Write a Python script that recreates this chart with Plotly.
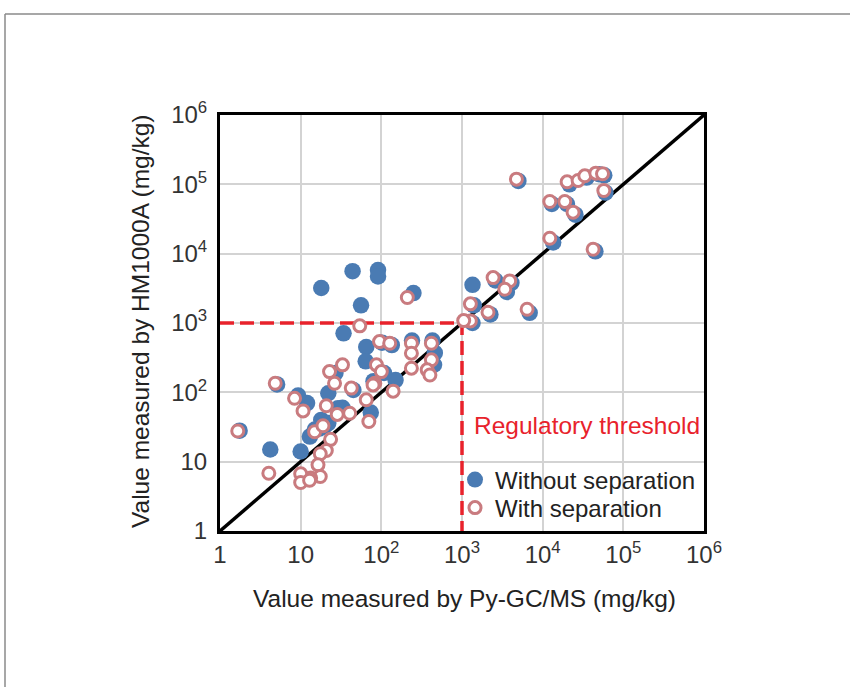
import plotly.graph_objects as go

# ---------------- data (mg/kg) ----------------
without_x = [18, 44, 91, 91, 56, 250, 34, 65, 64, 1350,
             22, 29, 74, 4.2, 10, 15, 18, 13, 22, 12, 150, 460, 450, 9.3, 45, 27,
             5000, 21500, 35000, 50000, 58000, 60000, 13000, 20000, 25500, 13500, 45000,
             2600, 4100, 3600, 1400, 2250, 6900, 1350, 102, 135, 240, 430, 108, 80,
             5.1, 1.75, 33, 17, 20]
without_y = [3200, 5600, 5800, 4700, 1800, 2700, 710, 450, 280, 3550,
             97, 59, 51, 15, 14, 29, 40, 23, 36, 70, 150, 370, 250, 90, 108, 190,
             112000, 100000, 125000, 140000, 135000, 76000, 52000, 52000, 36500, 14500, 10800,
             4100, 3800, 2800, 1800, 1330, 1400, 1000, 520, 480, 560, 560, 190, 145,
             130, 28, 60, 30, 33]

with_x = [210, 4730, 20100, 27500, 33300, 45600, 55200, 57300, 12250, 18800, 23800,
          12250, 42200, 2430, 3900, 3390, 1270, 2100, 6410, 1270, 1050, 54,
          95, 127, 236, 417, 236, 417, 236, 370, 400, 87, 100, 83, 140, 79,
          33, 22.8, 26.3, 42.4, 20.8, 28.4, 40.5, 65, 70, 8.4, 10.7, 4.84, 1.66,
          4.03, 14.9, 18.9, 23.5, 20.8, 17.5, 16.4, 17.5, 13.3, 10, 10, 12.9]
with_y = [2330, 118800, 108700, 113500, 132700, 145000, 142000, 81400, 56500, 56500, 39700,
          16700, 11600, 4520, 4050, 3070, 1888, 1432, 1581, 1072, 1083, 910,
          539, 511, 511, 511, 367, 294, 223, 211, 178, 249, 199, 135, 104, 128,
          249, 199, 135, 115, 64, 48, 50, 78, 38, 82, 54, 135, 27.7,
          6.8, 27, 33, 21, 14.5, 13, 9.0, 6.1, 5.8, 6.7, 5.0, 5.4]

axis_limits = [1, 1e6]
threshold = 1000
tick_vals = [1, 10, 100, 1000, 10000, 100000, 1000000]
tick_text = ["1", "10", "10<sup>2</sup>", "10<sup>3</sup>", "10<sup>4</sup>",
             "10<sup>5</sup>", "10<sup>6</sup>"]

# ---------------- layout constants ----------------
W, H = 850, 687
ML, MR, MT, MB = 220, 146, 115, 156
PW, PH = W - ML - MR, H - MT - MB
FONT = "Liberation Sans, Arial, sans-serif"
BLUE = "#4a7bb3"
ROSE = "#c97b7f"
RED = "#e8222b"


def px_x(p):
    return (p - ML) / PW


def px_y(p):
    return (H - MB - p) / PH


fig = go.Figure()

# 1:1 line
fig.add_trace(go.Scatter(x=axis_limits, y=axis_limits, mode="lines",
                         line=dict(color="black", width=3.5), showlegend=False,
                         hoverinfo="skip"))
# threshold lines
fig.add_trace(go.Scatter(x=[axis_limits[0], threshold, threshold],
                         y=[threshold, threshold, axis_limits[0]], mode="lines",
                         line=dict(color=RED, width=3.5, dash="14px,6px"),
                         showlegend=False, hoverinfo="skip"))

fig.add_trace(go.Scatter(x=without_x, y=without_y, mode="markers",
                         name="Without separation", legend="legend",
                         marker=dict(size=16.5, color=BLUE, line=dict(width=0))))
fig.add_trace(go.Scatter(x=with_x, y=with_y, mode="markers",
                         name="With separation", legend="legend2",
                         marker=dict(size=12, color="white",
                                     line=dict(color=ROSE, width=3))))

axis_common = dict(type="log", range=[0, 6], tickvals=tick_vals, ticktext=tick_text,
                   showline=True, mirror=True, linecolor="black", linewidth=3,
                   showgrid=True, gridcolor="#d3d3d3", gridwidth=2,
                   zeroline=False, ticks="",
                   tickfont=dict(family=FONT, size=24, color="#333333"))

fig.update_xaxes(**axis_common)
fig.update_yaxes(**axis_common, ticklabelstandoff=5)

legend_common = dict(xanchor="left", yanchor="middle", bgcolor="rgba(0,0,0,0)",
                     font=dict(family=FONT, size=24, color="#222222"),
                     itemwidth=30)

fig.update_layout(
    width=W, height=H,
    margin=dict(l=ML, r=MR, t=MT, b=MB),
    paper_bgcolor="white", plot_bgcolor="white",
    font=dict(family=FONT, color="#222222"),
    legend=dict(x=px_x(455), y=px_y(480), **legend_common),
    legend2=dict(x=px_x(455), y=px_y(508), **legend_common),
    annotations=[
        dict(text="Regulatory threshold", x=px_x(472), y=px_y(425),
             xref="paper", yref="paper",
             xanchor="left", yanchor="middle", showarrow=False,
             font=dict(family=FONT, size=24.5, color=RED)),
        dict(text="Value measured by Py-GC/MS (mg/kg)", x=px_x(464),
             y=px_y(598), xref="paper", yref="paper",
             xanchor="center", yanchor="middle", showarrow=False,
             font=dict(family=FONT, size=24.5, color="#222222")),
        dict(text="Value measured by HM1000A (mg/kg)", x=px_x(140),
             y=px_y(321), xref="paper", yref="paper", textangle=-90,
             xanchor="center", yanchor="middle", showarrow=False,
             font=dict(family=FONT, size=24.5, color="#222222")),
    ],
    shapes=[
        dict(type="line", xref="paper", yref="paper",
             x0=px_x(5), x1=px_x(W), y0=px_y(14), y1=px_y(14),
             line=dict(color="#8a8a8a", width=1.5)),
        dict(type="line", xref="paper", yref="paper",
             x0=px_x(5), x1=px_x(5), y0=px_y(14), y1=px_y(H),
             line=dict(color="#8a8a8a", width=1.5)),
    ],
)

fig.write_html("out.html", config={"displayModeBar": False},
               post_script="document.body.style.margin='0px';")
